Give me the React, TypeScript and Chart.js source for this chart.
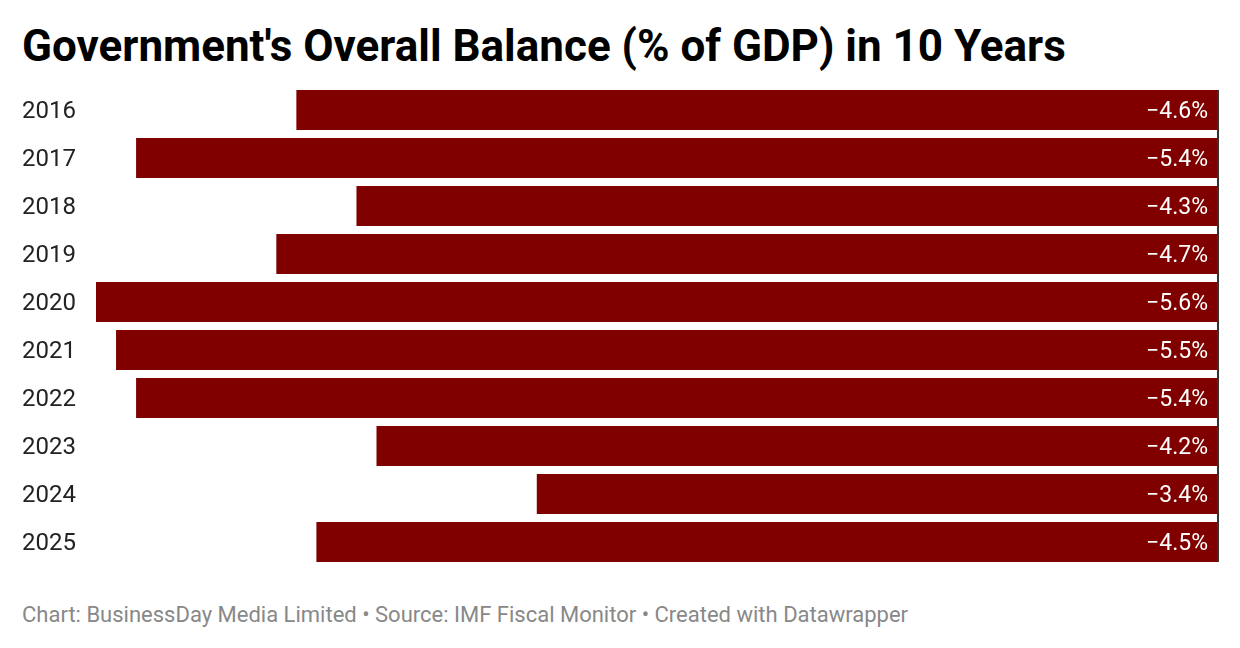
import React, { useEffect, useRef } from "react";
import { Chart, registerables } from "chart.js";

Chart.register(...registerables);

const years = ["2016", "2017", "2018", "2019", "2020", "2021", "2022", "2023", "2024", "2025"];
const balance = [-4.6, -5.4, -4.3, -4.7, -5.6, -5.5, -5.4, -4.2, -3.4, -4.5];

const TITLE = "Government's Overall Balance (% of GDP) in 10 Years";
const FOOTER = "Chart: BusinessDay Media Limited • Source: IMF Fiscal Monitor • Created with Datawrapper";

const FONT = "Roboto, 'Noto Sans', sans-serif";

const fmt = (v: number) => (v < 0 ? "\u2212" : "") + Math.abs(v).toFixed(1) + "%";

export default function App() {
  const ref = useRef<HTMLCanvasElement | null>(null);

  useEffect(() => {
    if (!ref.current) return;
    const labelPlugin = {
      id: "valueLabels",
      afterDatasetsDraw(chart: any) {
        const ctx = chart.ctx;
        const meta = chart.getDatasetMeta(0);
        const xs = chart.scales.x;
        const zero = xs.getPixelForValue(0);
        ctx.save();
        ctx.font = `23px ${FONT}`;
        ctx.fillStyle = "#ffffff";
        ctx.textAlign = "right";
        ctx.textBaseline = "middle";
        meta.data.forEach((bar: any, i: number) => {
          ctx.fillText(fmt(balance[i]), zero - 10, bar.y + 2);
        });
        const first = meta.data[0];
        const last = meta.data[meta.data.length - 1];
        const top = first.y - first.height / 2;
        const bottom = last.y + last.height / 2;
        ctx.strokeStyle = "#333333";
        ctx.lineWidth = 2;
        ctx.beginPath();
        ctx.moveTo(zero, top);
        ctx.lineTo(zero, bottom);
        ctx.stroke();
        ctx.restore();
      },
    };
    const chart = new Chart(ref.current, {
      type: "bar",
      data: {
        labels: years,
        datasets: [
          {
            data: balance,
            backgroundColor: "#800000",
            borderWidth: 0,
            barPercentage: 1,
            categoryPercentage: 40 / 48,
          },
        ],
      },
      options: {
        indexAxis: "y",
        animation: false,
        responsive: false,
        maintainAspectRatio: false,
        events: [],
        layout: { padding: { top: 0, bottom: 0, left: 22, right: 22 } },
        plugins: { legend: { display: false }, tooltip: { enabled: false } },
        scales: {
          x: {
            display: false,
            min: -5.6,
            max: 0,
          },
          y: {
            grid: { display: false },
            border: { display: false },
            ticks: {
              crossAlign: "far",
              padding: 0,
              labelOffset: 2,
              color: "#222222",
              font: { family: FONT, size: 24, lineHeight: "24px" },
            },
            afterFit(scale: any) {
              scale.width = 74;
            },
          },
        },
      },
      plugins: [labelPlugin],
    });
    return () => chart.destroy();
  }, []);

  return (
    <div
      style={{
        position: "absolute",
        left: 0,
        top: 0,
        width: 1240,
        height: 648,
        background: "#ffffff",
        overflow: "hidden",
        fontFamily: FONT,
      }}
    >
      <div
        style={{
          position: "absolute",
          left: 22,
          top: 21,
          fontSize: 44,
          fontWeight: 700,
          color: "#000000",
          lineHeight: "50px",
          whiteSpace: "nowrap",
        }}
      >
        {TITLE}
      </div>
      <canvas
        ref={ref}
        width={1240}
        height={504}
        style={{ position: "absolute", left: 0, top: 74, width: 1240, height: 504 }}
      />
      <div
        style={{
          position: "absolute",
          left: 22,
          top: 600,
          fontSize: 22,
          color: "#888888",
          lineHeight: "30px",
          whiteSpace: "nowrap",
        }}
      >
        {FOOTER}
      </div>
    </div>
  );
}
